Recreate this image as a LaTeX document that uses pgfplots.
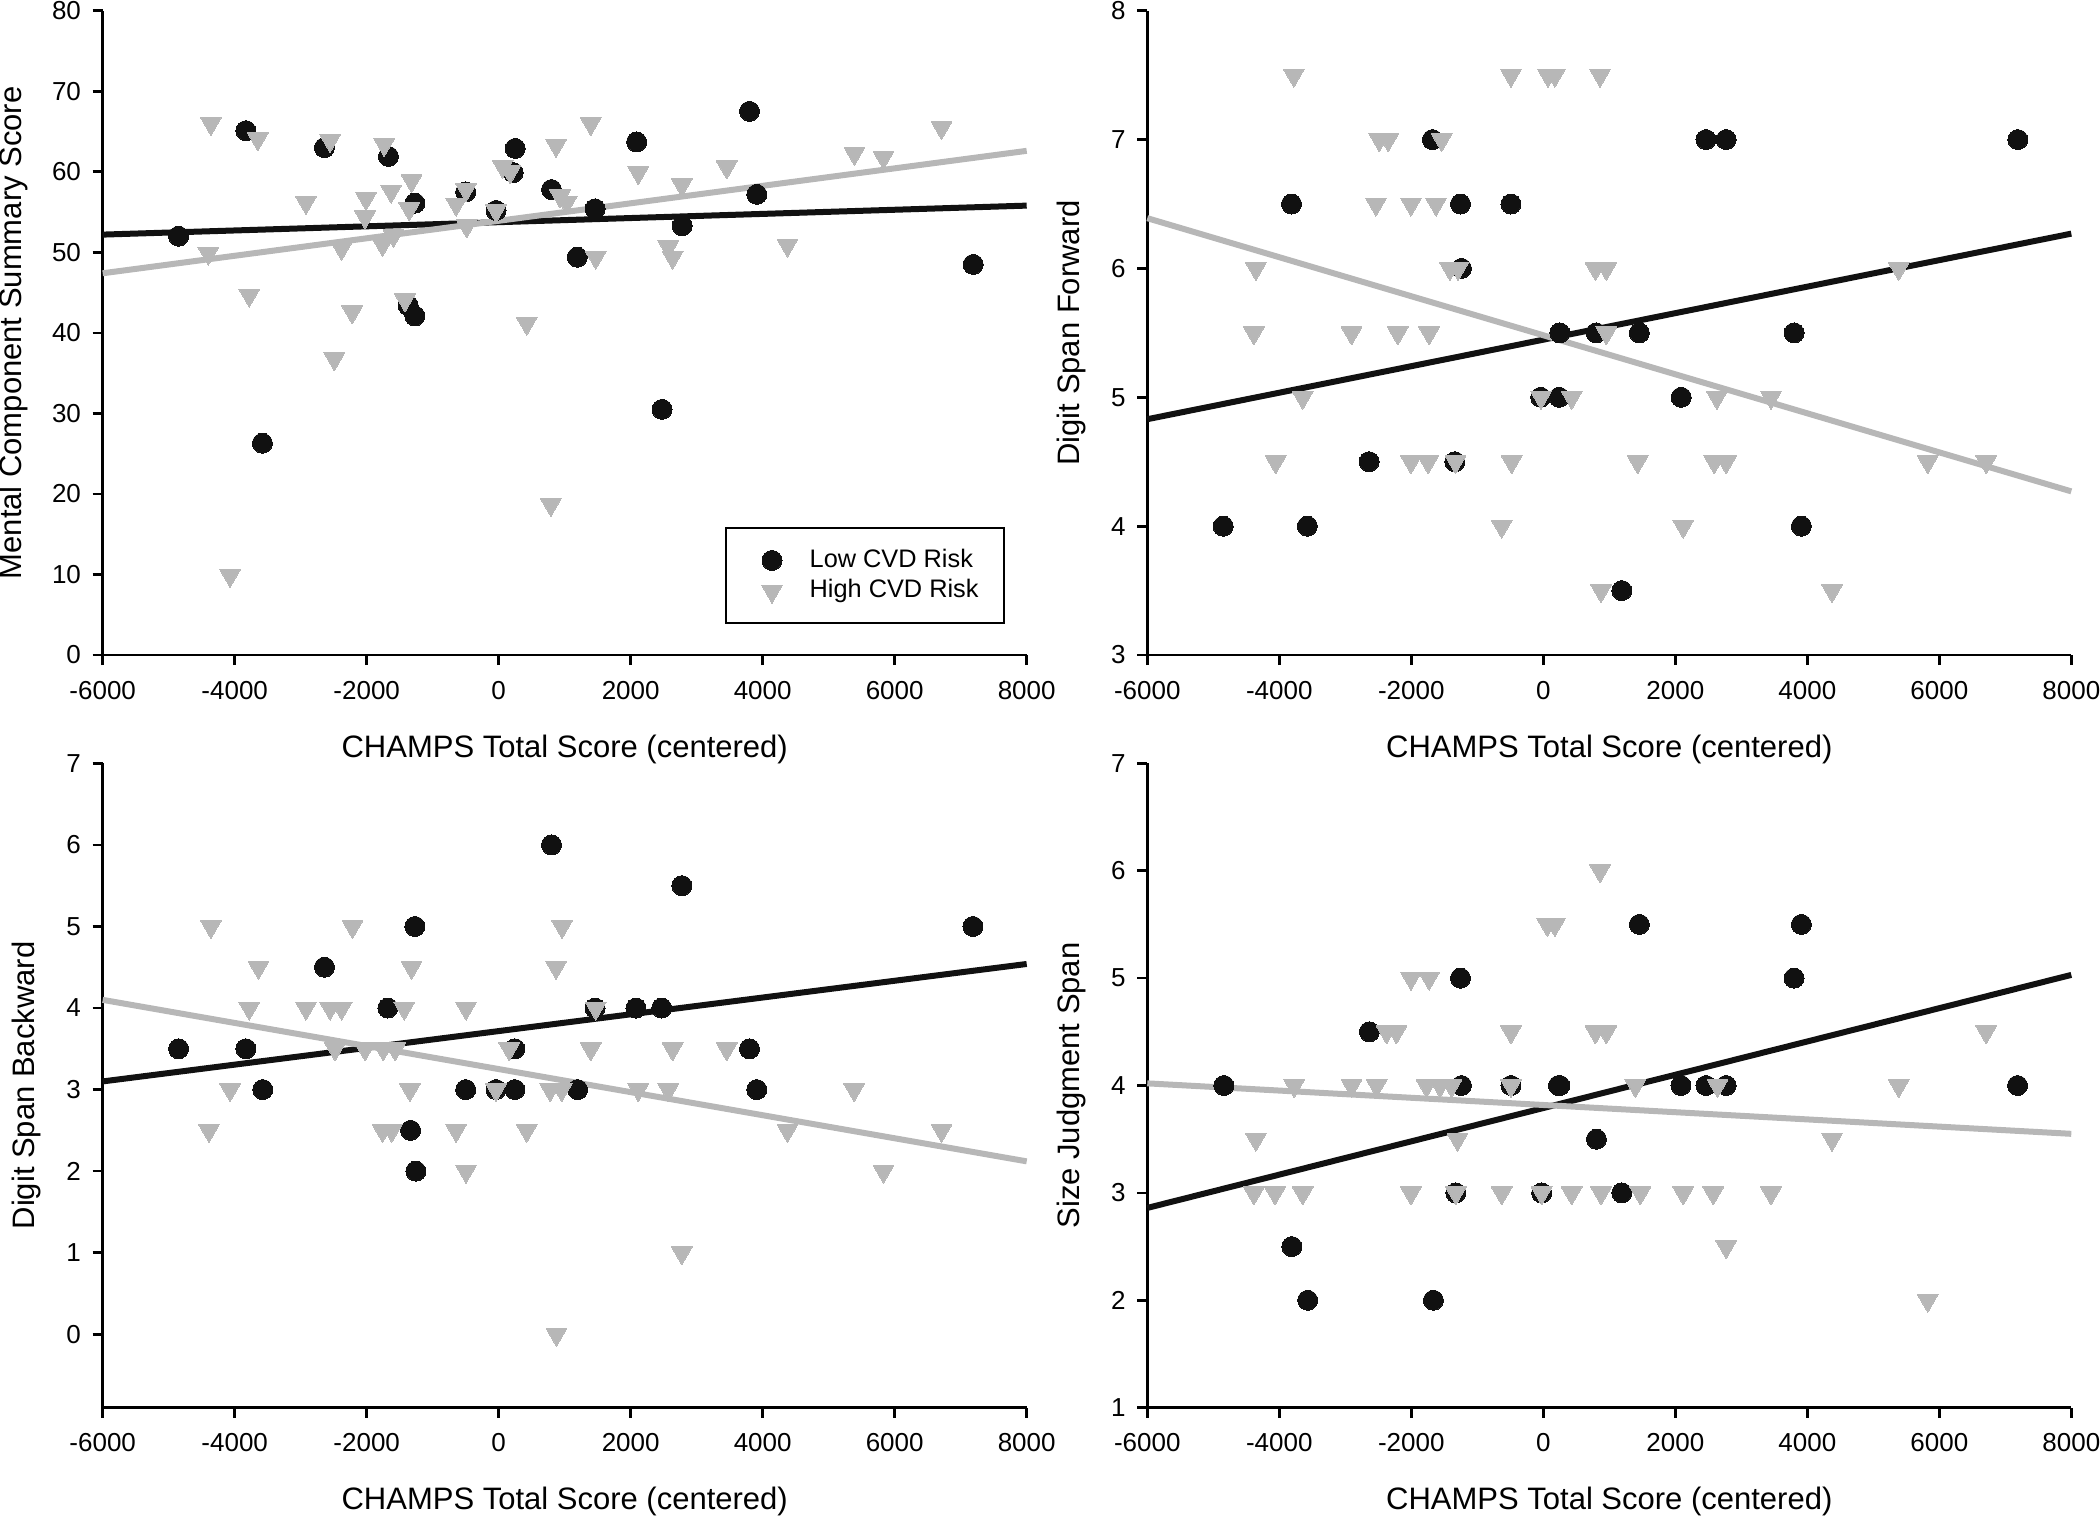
\documentclass[border=0pt]{standalone}
\usepackage{fontspec}
\setmainfont{Liberation Sans}
\usepackage{pgfplots}
\pgfplotsset{compat=1.18}
\definecolor{lowc}{RGB}{17,17,17}
\definecolor{highc}{RGB}{183,183,183}
\pgfplotsset{
  panel/.style={
    scale only axis, width=277.2pt, height=193.3pt,
    xmin=-6000, xmax=8000, xtick={-6000,-4000,-2000,0,2000,4000,6000,8000},
    axis x line=bottom, axis y line=left,
    axis line style={-, line width=0.8pt, black},
    tick align=outside, major tick length=3pt,
    tick style={line width=0.8pt, black},
    /pgf/number format/1000 sep={},
    /pgf/number format/assume math mode=true,
    tick label style={font=\fontsize{7.8}{8}\selectfont},
    xticklabel style={yshift=-1.3pt},
    label style={font=\fontsize{9.3}{11}\selectfont},
    xlabel={CHAMPS Total Score (centered)},
    xlabel style={at={(axis description cs:0.5,-0.146)}, anchor=center},
    clip=false,
  },
  lowpts/.style={lowc, only marks, mark=*, mark size=3pt, mark options={fill=lowc, draw=lowc, line width=0pt}},
  highpts/.style={highc, only marks, mark=triangle*, mark size=3.6pt, mark options={rotate=180, fill=highc, draw=highc, line width=0pt}},
  lowline/.style={lowc, line width=1.8pt, no marks, forget plot},
  highline/.style={highc, line width=1.8pt, no marks, forget plot},
}
\begin{document}
\begin{tikzpicture}
\path[use as bounding box] (0pt,0pt) rectangle (630pt,-455.4pt);

% Panel 1
\begin{axis}[panel, at={(30.81pt,-3.21pt)}, anchor=north west,
  ymin=0, ymax=80, ytick={0,10,...,80},
  ylabel={Mental Component Summary Score},
  ylabel style={at={(axis description cs:-0.0966,0.5)}, anchor=center},
  legend style={at={(rel axis cs:0.6735,0.048)}, anchor=south west,
    draw=black, line width=0.6pt, fill=white,
    font=\fontsize{7.6}{8}\selectfont,
    inner xsep=5pt, inner ysep=5pt, row sep=0pt,
    nodes={inner xsep=2.5pt, inner ysep=1.1pt}},
  legend cell align=left,
  legend image code/.code={\draw[#1, line width=0pt] plot coordinates {(8.5pt,0pt)}; \path (0pt,0pt) (17pt,0pt);},
]
\addplot[lowpts] coordinates {(-4850,52.0) (-3830,65.1) (-3580,26.3) (-2640,63.0) (-1670,61.9) (-1270,56.1) (-1370,43.4) (-1270,42.1) (-500,57.5) (-40,55.2) (250,62.9) (220,59.9) (800,57.8) (1460,55.4) (1190,49.4) (2090,63.7) (2475,30.5) (2780,53.3) (3800,67.5) (3910,57.2) (7190,48.5)};
\addlegendentry{Low CVD Risk}
\addplot[highpts] coordinates {(-4400,49.9) (-4360,66.0) (-4070,9.9) (-3780,44.7) (-3650,64.1) (-2920,56.2) (-2555,63.9) (-2490,36.8) (-2380,50.5) (-2220,42.6) (-2025,54.4) (-2010,56.7) (-1760,51.0) (-1735,63.4) (-1630,57.6) (-1595,52.1) (-1420,44.1) (-1355,55.4) (-1320,58.9) (-645,56.0) (-495,57.8) (-485,53.3) (-40,55.2) (60,60.7) (175,60.0) (425,41.2) (790,18.7) (870,63.3) (930,57.0) (1030,56.2) (1395,66.0) (1470,49.4) (2115,59.9) (2570,50.7) (2635,49.4) (2775,58.4) (3455,60.6) (4375,50.9) (5390,62.3) (5830,61.8) (6710,65.5)};
\addlegendentry{High CVD Risk}
\addplot[lowline] coordinates {(-6000,52.2) (8000,55.8)};
\addplot[highline] coordinates {(-6000,47.4) (8000,62.6)};
\end{axis}

% Panel 2
\begin{axis}[panel, at={(344.19pt,-3.21pt)}, anchor=north west,
  ymin=3, ymax=8, ytick={3,4,...,8},
  ylabel={Digit Span Forward},
  ylabel style={at={(axis description cs:-0.0825,0.5)}, anchor=center},
]
\addplot[lowpts] coordinates {(-4850,4) (-3815,6.5) (-3575,4) (-2640,4.5) (-1680,7) (-1255,6.5) (-1240,6) (-1340,4.5) (-490,6.5) (-40,5) (240,5) (250,5.5) (800,5.5) (1455,5.5) (1190,3.5) (2090,5) (2465,7) (2770,7) (3800,5.5) (3910,4) (7190,7)};
\addplot[highpts] coordinates {(-4385,5.5) (-4355,6) (-4055,4.5) (-3780,7.5) (-3645,5) (-2905,5.5) (-2535,6.5) (-2485,7) (-2350,7) (-2205,5.5) (-2005,6.5) (-2005,4.5) (-1745,4.5) (-1730,5.5) (-1625,6.5) (-1540,7) (-1415,6) (-1330,4.5) (-1290,6) (-630,4) (-490,7.5) (-480,4.5) (-35,5) (70,7.5) (175,7.5) (430,5) (790,6) (860,7.5) (875,3.5) (955,6) (955,5.5) (1430,4.5) (2120,4) (2590,4.5) (2630,5) (2770,4.5) (3450,5) (4375,3.5) (5385,6) (5825,4.5) (6710,4.5)};
\addplot[lowline] coordinates {(-6000,4.83) (8000,6.27)};
\addplot[highline] coordinates {(-6000,6.39) (8000,4.27)};
\end{axis}

% Panel 3
\begin{axis}[panel, at={(30.81pt,-229.0pt)}, anchor=north west,
  ymin=-0.9, ymax=7, ytick={0,1,...,7},
  ylabel={Digit Span Backward},
  ylabel style={at={(axis description cs:-0.082,0.5)}, anchor=center},
]
\addplot[lowpts] coordinates {(-4850,3.5) (-3830,3.5) (-3575,3.0) (-2640,4.5) (-1680,4.0) (-1270,5.0) (-1335,2.5) (-1255,2.0) (-500,3.0) (-40,3.0) (245,3.5) (245,3.0) (800,6.0) (1460,4.0) (1195,3.0) (2080,4.0) (2470,4.0) (2775,5.5) (3800,3.5) (3910,3.0) (7185,5.0)};
\addplot[highpts] coordinates {(-4360,5.0) (-3640,4.5) (-3780,4.0) (-4070,3.0) (-4390,2.5) (-2215,5.0) (-2920,4.0) (-2555,4.0) (-2380,4.0) (-2480,3.5) (-2025,3.5) (-1750,3.5) (-1570,3.5) (-1320,4.5) (-1430,4.0) (-1345,3.0) (-1760,2.5) (-1620,2.5) (-645,2.5) (-495,4.0) (-495,2.0) (-40,3.0) (160,3.5) (425,2.5) (780,3.0) (955,3.0) (870,4.5) (960,5.0) (875,0.0) (1470,4.0) (1395,3.5) (2115,3.0) (2570,3.0) (2635,3.5) (3455,3.5) (2775,1.0) (4375,2.5) (5385,3.0) (5830,2.0) (6710,2.5)};
\addplot[lowline] coordinates {(-6000,3.10) (8000,4.54)};
\addplot[highline] coordinates {(-6000,4.10) (8000,2.12)};
\end{axis}

% Panel 4
\begin{axis}[panel, at={(344.19pt,-229.0pt)}, anchor=north west,
  ymin=1, ymax=7, ytick={1,2,...,7},
  ylabel={Size Judgment Span},
  ylabel style={at={(axis description cs:-0.0825,0.5)}, anchor=center},
]
\addplot[lowpts] coordinates {(-4840,4.0) (-3810,2.5) (-3570,2.0) (-2635,4.5) (-1665,2.0) (-1255,5.0) (-1240,4.0) (-1325,3.0) (-490,4.0) (-25,3.0) (250,4.0) (230,4.0) (805,3.5) (1455,5.5) (1190,3.0) (2085,4.0) (2465,4.0) (2770,4.0) (3800,5.0) (3910,5.5) (7185,4.0)};
\addplot[highpts] coordinates {(-4385,3.0) (-4355,3.5) (-4065,3.0) (-3775,4.0) (-3645,3.0) (-2905,4.0) (-2525,4.0) (-2375,4.5) (-2225,4.5) (-2005,5.0) (-2005,3.0) (-1770,4.0) (-1730,5.0) (-1565,4.0) (-1390,4.0) (-1325,3.0) (-1300,3.5) (-630,3.0) (-490,4.5) (-490,4.0) (-25,3.0) (60,5.5) (175,5.5) (430,3.0) (790,4.5) (860,6.0) (875,3.0) (955,4.5) (1395,4.0) (1470,3.0) (2120,3.0) (2575,3.0) (2640,4.0) (2770,2.5) (3450,3.0) (4375,3.5) (5385,4.0) (5825,2.0) (6710,4.5)};
\addplot[lowline] coordinates {(-6000,2.86) (8000,5.03)};
\addplot[highline] coordinates {(-6000,4.02) (8000,3.55)};
\end{axis}
\end{tikzpicture}
\end{document}
